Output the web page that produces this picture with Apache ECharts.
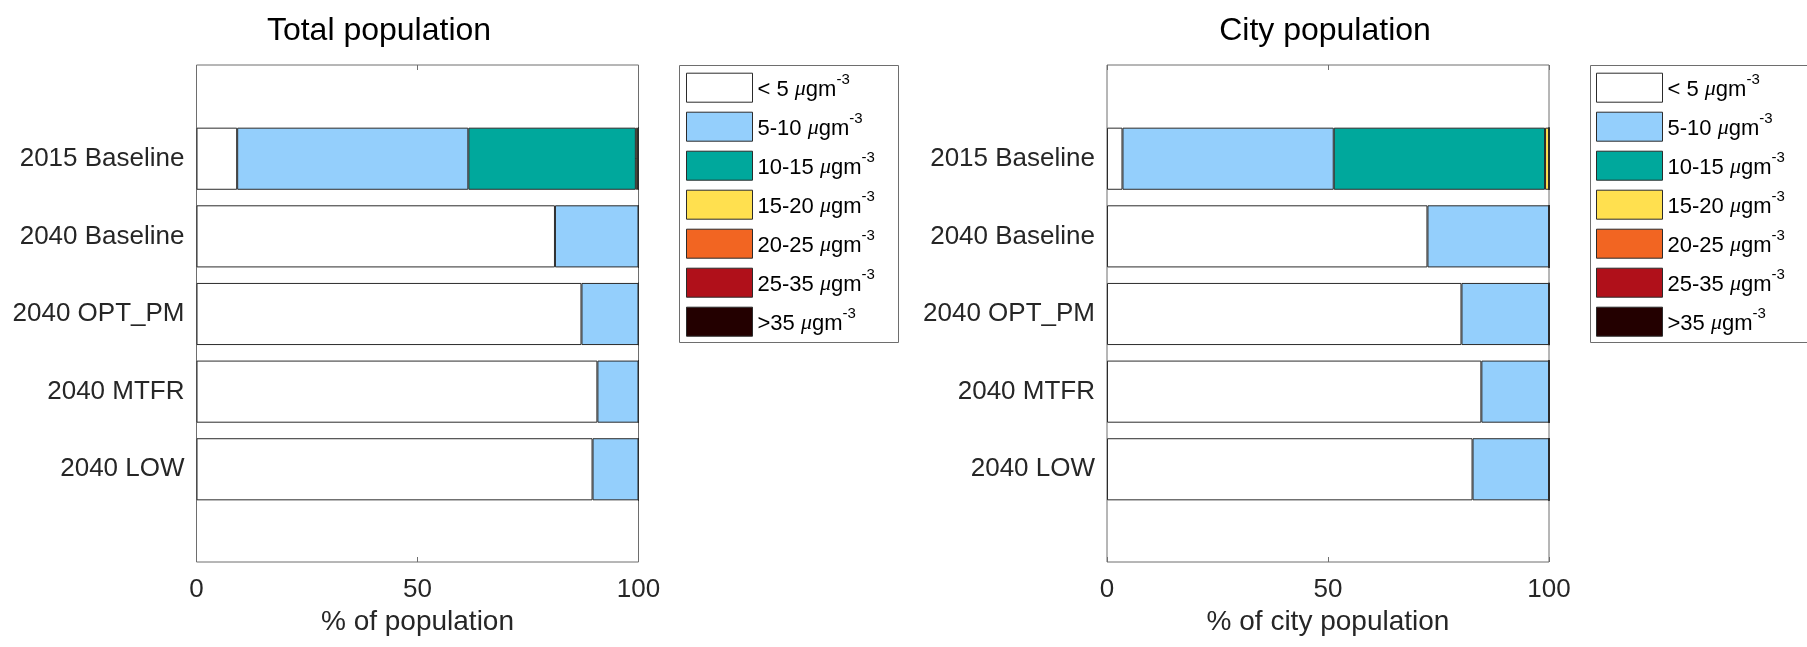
<!DOCTYPE html>
<html>
<head>
<meta charset="utf-8">
<script src="https://cdn.jsdelivr.net/npm/echarts@6/dist/echarts.min.js"></script>
<style>
html,body{margin:0;padding:0;background:#fff;}
#chart{width:1807px;height:647px;}
</style>
</head>
<body>
<div id="chart"></div>
<script>
// ---------- data ----------
const categories = ['2015 Baseline', '2040 Baseline', '2040 OPT_PM', '2040 MTFR', '2040 LOW'];
const bins = ['< 5', '5-10', '10-15', '15-20', '20-25', '25-35', '>35'];
const xTicks = [0, 50, 100];

// Total population (% of population)
const total_lt5   = [9.2, 81.1, 87.1, 90.7, 89.6];
const total_5_10  = [52.3, 18.9, 12.9, 9.3, 10.4];
const total_10_15 = [37.9, 0, 0, 0, 0];
const total_15_20 = [0.5, 0, 0, 0, 0];
const total_20_25 = [0.1, 0, 0, 0, 0];
const total_25_35 = [0, 0, 0, 0, 0];
const total_gt35  = [0, 0, 0, 0, 0];

// City population (% of city population)
const city_lt5   = [3.5, 72.5, 80.2, 84.7, 82.7];
const city_5_10  = [47.8, 27.5, 19.8, 15.3, 17.3];
const city_10_15 = [47.8, 0, 0, 0, 0];
const city_15_20 = [0.9, 0, 0, 0, 0];
const city_20_25 = [0, 0, 0, 0, 0];
const city_25_35 = [0, 0, 0, 0, 0];
const city_gt35  = [0, 0, 0, 0, 0];

const totalSeries = [total_lt5, total_5_10, total_10_15, total_15_20, total_20_25, total_25_35, total_gt35];
const citySeries  = [city_lt5, city_5_10, city_10_15, city_15_20, city_20_25, city_25_35, city_gt35];

// ---------- styles ----------
const binColors = ['#ffffff', '#94cffc', '#00a89c', '#ffe04f', '#f26522', '#b0101a', '#230000'];
const FONT = "'Liberation Sans', Arial, sans-serif";
const FRAME = '#6e6e6e';
const EDGE = '#2b2b2b';
const TXT = '#262626';

const chart = echarts.init(document.getElementById('chart'), null, {renderer: 'canvas'});

function frameGrid(left) {
  return {left: left, top: 65, width: 442, height: 497, show: true,
          borderColor: FRAME, borderWidth: 1, backgroundColor: 'transparent', containLabel: false};
}
function barGrid(left) {
  return {left: left, top: 119.9, width: 442, height: 388.2, show: false, containLabel: false};
}

function frameXBottom(gridIndex, name) {
  return {type: 'value', gridIndex: gridIndex, position: 'bottom', min: 0, max: 100, interval: 50,
    axisLine: {show: false}, splitLine: {show: false},
    axisTick: {show: true, inside: true, length: 5, lineStyle: {color: FRAME}},
    axisLabel: {show: true, fontSize: 26, color: TXT, fontFamily: FONT, margin: 15,
      formatter: v => (xTicks.indexOf(v) >= 0 ? String(v) : '')},
    name: name, nameLocation: 'middle', nameGap: 46,
    nameTextStyle: {fontSize: 28, color: TXT, fontFamily: FONT}};
}
function frameXTop(gridIndex) {
  return {type: 'value', gridIndex: gridIndex, position: 'top', min: 0, max: 100, interval: 50,
    axisLine: {show: false}, splitLine: {show: false}, axisLabel: {show: false},
    axisTick: {show: true, inside: true, length: 5, lineStyle: {color: FRAME}}};
}
function hiddenX(gridIndex) {
  return {type: 'value', gridIndex: gridIndex, min: 0, max: 100, show: false};
}
function hiddenY(gridIndex) {
  return {type: 'value', gridIndex: gridIndex, min: 0, max: 1, show: false};
}
function catY(gridIndex, pos, showLabel) {
  return {type: 'category', gridIndex: gridIndex, position: pos, inverse: true, data: categories,
    axisLine: {show: false}, splitLine: {show: false},
    axisTick: {show: true, inside: true, length: 5, alignWithLabel: true, lineStyle: {color: FRAME}},
    axisLabel: {show: showLabel, fontSize: 26, color: TXT, fontFamily: FONT, margin: 12}};
}

function makeSeries(dataList, stack, xIdx, yIdx) {
  return bins.map((b, i) => ({
    type: 'bar', name: b, stack: stack, xAxisIndex: xIdx, yAxisIndex: yIdx,
    barWidth: '80%', data: dataList[i], silent: true,
    itemStyle: {color: binColors[i], borderColor: EDGE, borderWidth: 1},
    emphasis: {disabled: true}
  }));
}

const legendRich = {
  t: {fontSize: 22, lineHeight: 35, verticalAlign: 'middle', color: '#000', fontFamily: FONT},
  u: {fontSize: 22, lineHeight: 35, verticalAlign: 'middle', color: '#000', fontStyle: 'italic', fontFamily: "'Liberation Serif', serif"},
  s: {fontSize: 15, lineHeight: 35, verticalAlign: 'top', color: '#000', fontFamily: FONT}
};
function legendAt(left) {
  return {data: bins, left: left, top: 72.2, orient: 'vertical', icon: 'rect',
    itemWidth: 66, itemHeight: 29, itemGap: 8.5, padding: 0, selectedMode: false,
    itemStyle: {borderColor: EDGE, borderWidth: 1},
    formatter: n => '{t|' + n + ' }{u|\u03bc}{t|gm}{s|-3}',
    textStyle: {rich: legendRich, padding: [4, 0, 0, 0]}};
}

const option = {
  backgroundColor: '#ffffff',
  animation: false,
  title: [
    {text: 'Total population', left: 374, top: 10, textAlign: 'center',
     textStyle: {fontSize: 32, fontWeight: 'normal', color: '#000', fontFamily: FONT}},
    {text: 'City population', left: 1320, top: 10, textAlign: 'center',
     textStyle: {fontSize: 32, fontWeight: 'normal', color: '#000', fontFamily: FONT}}
  ],
  legend: [legendAt(686), legendAt(1596)],
  grid: [frameGrid(196.5), barGrid(196.5), frameGrid(1107), barGrid(1107)],
  xAxis: [
    frameXBottom(0, '% of population'), frameXTop(0), hiddenX(1),
    frameXBottom(2, '% of city population'), frameXTop(2), hiddenX(3)
  ],
  yAxis: [
    hiddenY(0), catY(1, 'left', true), catY(1, 'right', false),
    hiddenY(2), catY(3, 'left', true), catY(3, 'right', false)
  ],
  graphic: [
    {type: 'rect', shape: {x: 679.5, y: 65.5, width: 219, height: 277}, style: {fill: 'none', stroke: FRAME, lineWidth: 1}, z: -1},
    {type: 'rect', shape: {x: 1590.5, y: 65.5, width: 260, height: 277}, style: {fill: 'none', stroke: FRAME, lineWidth: 1}, z: -1}
  ],
  series: [].concat(
    makeSeries(totalSeries, 'total', 2, 1),
    makeSeries(citySeries, 'city', 5, 4)
  )
};
chart.setOption(option);
</script>
</body>
</html>
